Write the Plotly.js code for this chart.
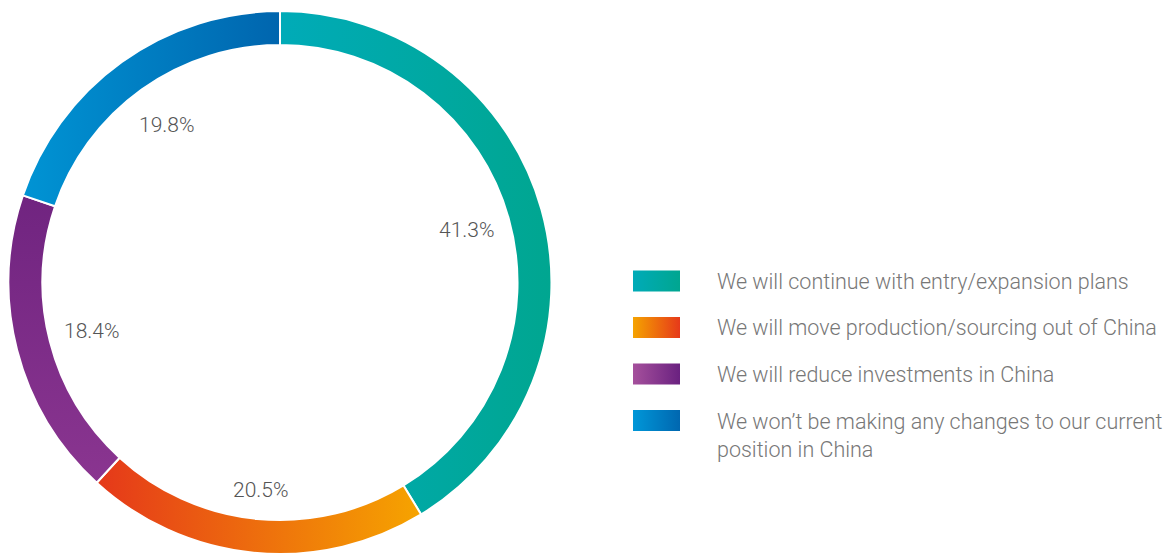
<!DOCTYPE html>
<html>
<head>
<meta charset="utf-8">
<script src="https://cdn.plot.ly/plotly-3.0.1.min.js"></script>
<style>html,body{margin:0;padding:0;background:#fff;}#chart{width:1173px;height:554px;}</style>
</head>
<body>
<div id="chart"></div>
<script>
const categories = [
  "We will continue with entry/expansion plans",
  "We will move production/sourcing out of China",
  "We will reduce investments in China",
  "We won\u2019t be making any changes to our current<br>position in China"
];
const values = [41.3, 20.5, 18.4, 19.8];
const valueLabels = ["41.3%", "20.5%", "18.4%", "19.8%"];
const colors = ["#00a9a6", "#ee7410", "#7a2886", "#0081c3"];
// gradient stops for slices [start, end, direction]
const sliceGradients = [
  ["#00abb8", "#00a690", "h"],
  ["#e5381a", "#f6a400", "h"],
  ["#702480", "#8a3590", "v"],
  ["#0094d4", "#0065ae", "h"]
];
const legendGradients = [
  ["#00abb8", "#00a690"],
  ["#f5a300", "#e6391a"],
  ["#a5509c", "#6a2180"],
  ["#0097d8", "#0067b0"]
];

const W = 1173, H = 554;
const cx = 280, cy = 282.5, labelR = 194;
const total = values.reduce((a, b) => a + b, 0);

const annotations = [];
let cum = 0;
values.forEach((v, i) => {
  const mid = (cum + v / 2) / total * 2 * Math.PI;
  cum += v;
  const px = cx + labelR * Math.sin(mid);
  const py = cy - labelR * Math.cos(mid);
  const nearBottom = Math.cos(mid) < -0.5;
  annotations.push({
    x: px / W, y: 1 - py / H, xref: "paper", yref: "paper",
    text: valueLabels[i], showarrow: false, xanchor: "center",
    yanchor: nearBottom ? "top" : "middle",
    font: {family: "Roboto, sans-serif", size: 21, weight: 300, color: "#555555"}
  });
});

const shapes = [];
const legendY = [281, 327.5, 374, 420.5];
categories.forEach((c, i) => {
  const y = legendY[i];
  shapes.push({
    type: "rect", xref: "paper", yref: "paper",
    x0: 633 / W, x1: 680 / W, y0: 1 - (y - 10.5) / H, y1: 1 - (y + 10.5) / H,
    fillcolor: colors[i], line: {width: 0}
  });
  annotations.push({
    x: 715 / W, y: 1 - y / H, xref: "paper", yref: "paper",
    text: c, showarrow: false, xanchor: "left", yanchor: i === 3 ? "top" : "middle",
    yshift: i === 3 ? 14 : 0,
    align: "left",
    font: {family: "Roboto, sans-serif", size: 21.5, weight: 300, color: "#777777"}
  });
});

const data = [{
  type: "pie",
  values: values,
  labels: categories,
  sort: false,
  direction: "clockwise",
  rotation: 0,
  hole: 0.875,
  textinfo: "none",
  hoverinfo: "none",
  marker: {colors: colors, line: {color: "#ffffff", width: 2}},
  domain: {x: [8 / W, 552 / W], y: [0, 0.98]},
  showlegend: false
}];

const layout = {
  width: W, height: H,
  margin: {l: 0, r: 0, t: 0, b: 0},
  paper_bgcolor: "#ffffff",
  showlegend: false,
  annotations: annotations,
  shapes: shapes
};

Plotly.newPlot("chart", data, layout, {staticPlot: true}).then(gd => {
  const svg = gd.querySelector("svg.main-svg");
  const ns = "http://www.w3.org/2000/svg";
  let defs = svg.querySelector("defs");
  if (!defs) { defs = document.createElementNS(ns, "defs"); svg.insertBefore(defs, svg.firstChild); }
  function addGrad(id, c1, c2, dir) {
    const g = document.createElementNS(ns, "linearGradient");
    g.setAttribute("id", id);
    g.setAttribute("x1", "0"); g.setAttribute("y1", "0");
    g.setAttribute("x2", dir === "v" ? "0" : "1"); g.setAttribute("y2", dir === "v" ? "1" : "0");
    [[0, c1], [1, c2]].forEach(([o, c]) => {
      const s = document.createElementNS(ns, "stop");
      s.setAttribute("offset", o); s.setAttribute("stop-color", c);
      g.appendChild(s);
    });
    defs.appendChild(g);
  }
  sliceGradients.forEach((g, i) => addGrad("sg" + i, g[0], g[1], g[2]));
  legendGradients.forEach((g, i) => addGrad("lg" + i, g[0], g[1], "h"));
  gd.querySelectorAll("g.slice path.surface").forEach((p, i) => {
    p.style.fill = "url(#sg" + i + ")";
  });
  const shapePaths = gd.querySelectorAll(".shapelayer path");
  shapePaths.forEach((p, i) => { if (i < 4) p.style.fill = "url(#lg" + i + ")"; });
});
</script>
</body>
</html>
